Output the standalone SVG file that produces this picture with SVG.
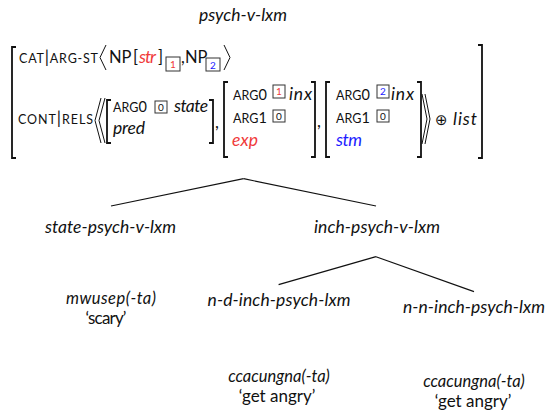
<svg xmlns="http://www.w3.org/2000/svg" width="548" height="414" viewBox="0 0 548 414">
<style>
text{font-family:Lato,"Noto Sans","DejaVu Sans",sans-serif;fill:#111}
.it{font-style:italic;font-size:17.5px}
.ex{font-size:16.5px}
.rm{font-size:17px}
.sc{font-size:12.5px}
.bar{font-size:17px}
.dg{font-size:14.5px}
.np{font-size:16.5px}
.mid{text-anchor:middle}
.br{fill:none;stroke:#111;stroke-width:1.8}
.ang{fill:none;stroke:#111;stroke-width:1}
.box{fill:none;stroke:#333;stroke-width:1}
.bn{font-size:10px;text-anchor:middle}
.red{fill:#f03a3a}
.blue{fill:#1c1cff}
.edge{stroke:#111;stroke-width:1.2;fill:none}
</style>
<rect width="548" height="414" fill="#fff"/>
<g id="psych-v-lxm">
<text class="it mid" x="243" y="21" textLength="88">psych-v-lxm</text>
<path class="br" d="M16,47 H12 V158 H16"/>
<path class="br" d="M478,45 H482 V158 H478"/>
<text x="19" y="63" textLength="79"><tspan class="sc">CAT</tspan><tspan class="bar">|</tspan><tspan class="sc">ARG-ST</tspan></text>
<path class="ang" d="M106,45 L100,57.5 L106,70"/>
<text class="np" x="109" y="63">NP</text>
<text class="np" x="133" y="63">[</text>
<text class="it red" x="139" y="63" textLength="17">str</text>
<text class="np" x="158" y="63">]</text>
<rect class="box" x="166" y="57" width="14" height="14"/>
<text class="bn red" x="173" y="68">1</text>
<text class="np" x="181" y="63">,</text>
<text class="np" x="185" y="63">NP</text>
<rect class="box" x="206" y="58" width="14" height="13"/>
<text class="bn blue" x="213" y="68.5">2</text>
<path class="ang" d="M224,45 L230,57.5 L224,70"/>
<text x="18" y="124" textLength="75"><tspan class="sc">CONT</tspan><tspan class="bar">|</tspan><tspan class="sc">RELS</tspan></text>
<path class="ang" d="M101,98 L95,120.5 L101,143"/>
<path class="ang" d="M105,98 L99,120.5 L105,143"/>
<path class="br" d="M111,100 H107 V143 H111"/>
<path class="br" d="M209,100 H213 V143 H209"/>
<text x="113" y="112" textLength="34"><tspan class="sc">ARG</tspan><tspan class="dg">0</tspan></text>
<rect class="box" x="155" y="101" width="12" height="12"/>
<text class="bn" x="161" y="110.5">0</text>
<text class="it" x="174" y="112" textLength="34">state</text>
<text class="it" x="113" y="134" textLength="32">pred</text>
<text class="rm" x="215" y="128">,</text>
<path class="br" d="M228,82 H224 V157 H228"/>
<path class="br" d="M311,82 H315 V157 H311"/>
<text x="233" y="100" textLength="34"><tspan class="sc">ARG</tspan><tspan class="dg">0</tspan></text>
<rect class="box" x="273" y="85" width="12" height="13"/>
<text class="bn red" x="279" y="95">1</text>
<text class="it" x="289" y="100" textLength="23">inx</text>
<text x="233" y="123" textLength="34"><tspan class="sc">ARG</tspan><tspan class="dg">1</tspan></text>
<rect class="box" x="273" y="110" width="12" height="12"/>
<text class="bn" x="279" y="119.5">0</text>
<text class="it red" x="232" y="146" textLength="26">exp</text>
<text class="rm" x="317" y="127">,</text>
<path class="br" d="M330,82 H326 V157 H330"/>
<path class="br" d="M417,82 H421 V157 H417"/>
<text x="336" y="100" textLength="34"><tspan class="sc">ARG</tspan><tspan class="dg">0</tspan></text>
<rect class="box" x="377" y="85" width="12" height="13"/>
<text class="bn blue" x="383" y="95">2</text>
<text class="it" x="391" y="100" textLength="23">inx</text>
<text x="336" y="123" textLength="34"><tspan class="sc">ARG</tspan><tspan class="dg">1</tspan></text>
<rect class="box" x="377" y="110" width="12" height="12"/>
<text class="bn" x="383" y="119.5">0</text>
<text class="it blue" x="336" y="146" textLength="26">stm</text>
<path class="ang" d="M422,94 L427,119 L422,144"/>
<path class="ang" d="M425,94 L430,119 L425,144"/>
<text x="435" y="125" style="font-family:'DejaVu Sans',sans-serif;font-size:15px">⊕</text>
<text class="it" x="453" y="125" textLength="24">list</text>
</g>
<g id="connectors">
<line class="edge" x1="243.6" y1="178.7" x2="111" y2="206"/>
<line class="edge" x1="243.6" y1="178.7" x2="376" y2="206"/>
<line class="edge" x1="376" y1="256.7" x2="278.6" y2="284.6"/>
<line class="edge" x1="376" y1="256.7" x2="474" y2="291.6"/>
</g>
<g id="state-psych-v-lxm">
<text class="it mid" x="110.5" y="233" textLength="131">state-psych-v-lxm</text>
<text class="it ex mid" x="111" y="304" textLength="90">mwusep(-ta)</text>
<text class="rm ex mid" x="106" y="324" textLength="41">‘scary’</text>
</g>
<g id="inch-psych-v-lxm">
<text class="it mid" x="377" y="233" textLength="126">inch-psych-v-lxm</text>
</g>
<g id="n-d-inch-psych-lxm">
<text class="it mid" x="279" y="306" textLength="143">n-d-inch-psych-lxm</text>
<text class="it ex mid" x="279" y="382">ccacungna(-ta)</text>
<text class="rm ex mid" x="277" y="402">‘get angry’</text>
</g>
<g id="n-n-inch-psych-lxm">
<text class="it mid" x="474" y="313" textLength="142">n-n-inch-psych-lxm</text>
<text class="it ex mid" x="474" y="387">ccacungna(-ta)</text>
<text class="rm ex mid" x="473" y="407">‘get angry’</text>
</g>
</svg>
